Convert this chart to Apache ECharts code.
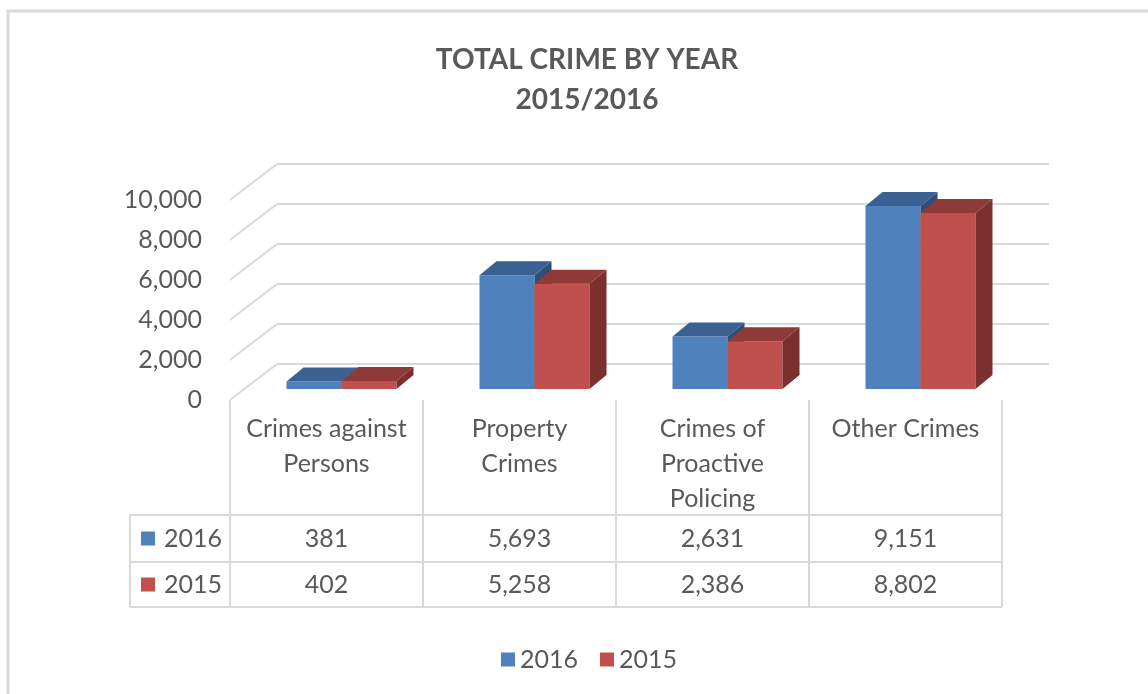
<!DOCTYPE html>
<html>
<head>
<meta charset="utf-8">
<script src="https://cdn.jsdelivr.net/npm/echarts@6/dist/echarts.min.js"></script>
<style>
  html, body { margin: 0; padding: 0; background: #fff; }
  #chart { width: 1148px; height: 694px; }
</style>
</head>
<body>
<div id="chart"></div>
<script>
// data
const categories = ['Crimes against\nPersons', 'Property\nCrimes', 'Crimes of\nProactive\nPolicing', 'Other Crimes'];
const seriesNames = ['2016', '2015'];
const values2016 = [381, 5693, 2631, 9151];
const values2015 = [402, 5258, 2386, 8802];
const yTicks = [0, 2000, 4000, 6000, 8000, 10000];

const textColor = '#595959';
const gridColor = '#d9d9d9';
const fontFamily = 'Lato, "Open Sans", sans-serif';
const fontSize = 25;
const colors = {
  '2016': { front: '#4f81bd', top: '#3a6191', side: '#2f4f78' },
  '2015': { front: '#c0504d', top: '#8f3a38', side: '#7b302e' }
};

// 3d look
const wallDx = 47, wallDy = -36;   // back wall offset
const barDx = 15, barDy = -11;     // bar front face offset
const depthDx = 17, depthDy = -14; // bar depth
const barWidth = 55;

const chart = echarts.init(document.getElementById('chart'));

const renderBar = (seriesIndex) => (params, api) => {
  const cat = api.value(0);
  const val = api.value(1);
  const top = api.coord([cat, val]);
  const base = api.coord([cat, 0]);
  const c = colors[seriesNames[seriesIndex]];
  const x0 = top[0] + barDx + (seriesIndex === 0 ? -barWidth : 0);
  const x1 = x0 + barWidth;
  const yt = top[1] + barDy;
  const yb = base[1] + barDy;
  return {
    type: 'group',
    children: [
      {
        type: 'rect',
        shape: { x: x0, y: yt, width: barWidth, height: yb - yt },
        style: { fill: c.front }
      },
      {
        type: 'polygon',
        shape: { points: [[x0, yt], [x0 + depthDx, yt + depthDy], [x1 + depthDx, yt + depthDy], [x1, yt]] },
        style: { fill: c.top }
      },
      {
        type: 'polygon',
        shape: { points: [[x1, yt], [x1 + depthDx, yt + depthDy], [x1 + depthDx, yb + depthDy], [x1, yb]] },
        style: { fill: c.side }
      }
    ]
  };
};

const renderGridLine = (params, api) => {
  const cs = params.coordSys;
  const y = api.coord([0, api.value(1)])[1];
  const lineStyle = { stroke: gridColor, lineWidth: 2 };
  return {
    type: 'group',
    silent: true,
    children: [
      {
        type: 'line',
        shape: { x1: cs.x, y1: y, x2: cs.x + wallDx, y2: y + wallDy },
        style: lineStyle
      },
      {
        type: 'line',
        shape: { x1: cs.x + wallDx, y1: y + wallDy, x2: cs.x + cs.width + wallDx, y2: y + wallDy },
        style: lineStyle
      }
    ]
  };
};

// data table below the plot
const gridLeft = 230;
const colWidth = 193;
const tableTop = 400, row1 = 515, row2 = 562, row3 = 607;
const tableLeft = 130;
const tableRight = gridLeft + colWidth * categories.length;
const lineStyle = { stroke: gridColor, lineWidth: 2 };
const fmt = (v) => v.toLocaleString('en-US');
const font = fontSize + 'px ' + fontFamily;

const tableGraphics = [];
// outer frame of the picture
tableGraphics.push({ type: 'polyline', shape: { points: [[8, 700], [8, 11], [1150, 11]] }, style: { stroke: gridColor, lineWidth: 3, fill: null } });
for (let i = 0; i <= categories.length; i++) {
  const x = gridLeft + colWidth * i;
  tableGraphics.push({ type: 'line', shape: { x1: x, y1: tableTop, x2: x, y2: row3 }, style: lineStyle });
}
tableGraphics.push({ type: 'line', shape: { x1: tableLeft, y1: row1, x2: tableLeft, y2: row3 }, style: lineStyle });
[row1, row2, row3].forEach(y => {
  tableGraphics.push({ type: 'line', shape: { x1: tableLeft, y1: y, x2: tableRight, y2: y }, style: lineStyle });
});
categories.forEach((name, i) => {
  tableGraphics.push({
    type: 'text',
    x: gridLeft + colWidth * (i + 0.5),
    y: 411,
    style: { text: name, fill: textColor, font: font, align: 'center', verticalAlign: 'top', lineHeight: 35 }
  });
});
[values2016, values2015].forEach((vals, r) => {
  const cy = r === 0 ? (row1 + row2) / 2 : (row2 + row3) / 2;
  const name = seriesNames[r];
  tableGraphics.push({ type: 'rect', shape: { x: 141, y: cy - 7, width: 14, height: 14 }, style: { fill: colors[name].front } });
  tableGraphics.push({
    type: 'text', x: 164, y: cy,
    style: { text: name, fill: textColor, font: font, align: 'left', verticalAlign: 'middle' }
  });
  vals.forEach((v, i) => {
    tableGraphics.push({
      type: 'text',
      x: gridLeft + colWidth * (i + 0.5),
      y: cy,
      style: { text: fmt(v), fill: textColor, font: font, align: 'center', verticalAlign: 'middle' }
    });
  });
});

const option = {
  backgroundColor: '#fff',
  animation: false,
  title: {
    text: 'TOTAL CRIME BY YEAR\n2015/2016',
    left: 582,
    top: 35,
    textAlign: 'center',
    textStyle: { color: textColor, fontSize: 28, fontWeight: 'bold', fontFamily: fontFamily, lineHeight: 40 }
  },
  legend: {
    data: seriesNames,
    left: 496,
    top: 642,
    icon: 'rect',
    itemWidth: 14,
    itemHeight: 14,
    itemGap: 22,
    textStyle: { color: textColor, fontSize: fontSize, fontFamily: fontFamily }
  },
  grid: {
    left: gridLeft,
    right: 1148 - tableRight,
    top: 200,
    bottom: 694 - tableTop
  },
  xAxis: {
    type: 'category',
    data: categories,
    axisLine: { show: false },
    axisTick: { show: false },
    axisLabel: { show: false }
  },
  yAxis: {
    type: 'value',
    min: 0,
    max: 10000,
    interval: 2000,
    axisLine: { show: false },
    axisTick: { show: false },
    splitLine: { show: false },
    axisLabel: {
      color: textColor,
      fontSize: fontSize,
      fontFamily: fontFamily,
      margin: 28,
      formatter: (v) => fmt(v)
    }
  },
  series: [
    {
      name: 'grid',
      type: 'custom',
      z: 1,
      silent: true,
      itemStyle: { color: gridColor },
      renderItem: renderGridLine,
      data: yTicks.map(v => [0, v])
    },
    {
      name: seriesNames[0],
      type: 'custom',
      z: 2,
      itemStyle: { color: colors['2016'].front },
      renderItem: renderBar(0),
      data: values2016.map((v, i) => [i, v])
    },
    {
      name: seriesNames[1],
      type: 'custom',
      z: 3,
      itemStyle: { color: colors['2015'].front },
      renderItem: renderBar(1),
      data: values2015.map((v, i) => [i, v])
    }
  ],
  graphic: tableGraphics
};

chart.setOption(option);
</script>
</body>
</html>
